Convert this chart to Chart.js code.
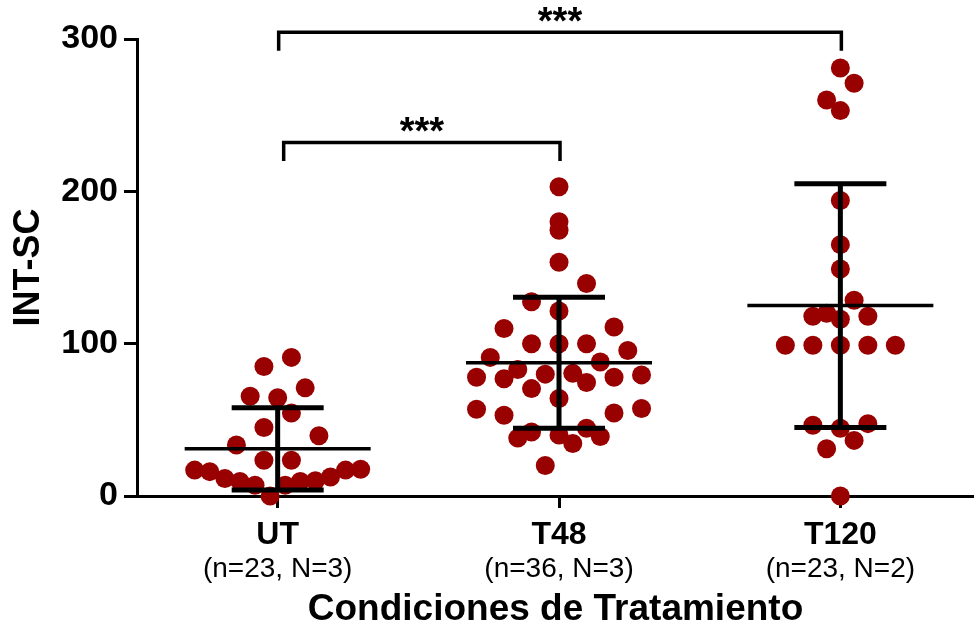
<!DOCTYPE html>
<html>
<head>
<meta charset="utf-8">
<script src="https://cdn.jsdelivr.net/npm/chart.js@4.4.0/dist/chart.umd.min.js"></script>
<style>
  html, body { margin: 0; padding: 0; background: #fff; }
</style>
</head>
<body>
<canvas id="chart" width="974" height="632"></canvas>
<script>
const groups = ["UT", "T48", "T120"];
const groupNotes = ["(n=23, N=3)", "(n=36, N=3)", "(n=23, N=2)"];
const utValues = [91, 85, 71, 65.5, 64.5, 54.5, 45, 39.5, 33.5, 23.5, 23.5,
	17.5, 17, 17, 16, 12.5, 11.5, 10, 9.5, 9.5, 7, 7, 0];
const t48Values = [203, 180, 174.5, 153.5, 139.5, 127.5, 121.5, 111, 110, 100, 100, 100,
	95.5, 91, 88, 83, 80.5, 80, 79.5, 78, 78, 77, 74.5, 70.5, 64, 57.5, 57, 54.5, 53,
	44.5, 42, 40, 39, 38, 34.5, 20];
const t120Values = [281, 271, 260, 253, 194, 165, 149, 128.5, 120, 118, 118, 116,
	99, 99, 99, 99, 99, 47.5, 46.5, 44.5, 36.5, 31, 0];
const means = [31, 87.5, 125];
const sds = [27, 43, 80];
const yTicks = [0, 100, 200, 300];
const comparisons = [
	{ from: 0, to: 2, level: 304.5, label: "***" },
	{ from: 0, to: 1, level: 232, label: "***" },
];

const dotColor = "#990000";
const font = "'Liberation Sans', Arial, sans-serif";

const groupValues = [utValues, t48Values, t120Values];

// mean line + SD bars, drawn over the dots
const errorBars = {
	id: "errorBars",
	afterDatasetsDraw(chart) {
		const { ctx, scales: { x, y } } = chart;
		ctx.save();
		ctx.strokeStyle = "#000";
		ctx.lineCap = "butt";
		groups.forEach((g, i) => {
			const cx = x.getPixelForValue(i);
			const ym = y.getPixelForValue(means[i]);
			const yt = y.getPixelForValue(means[i] + sds[i]);
			const yb = y.getPixelForValue(means[i] - sds[i]);
			ctx.lineWidth = 5;
			ctx.beginPath();
			ctx.moveTo(cx, yt);
			ctx.lineTo(cx, yb);
			ctx.moveTo(cx - 46, yt);
			ctx.lineTo(cx + 46, yt);
			ctx.moveTo(cx - 46, yb);
			ctx.lineTo(cx + 46, yb);
			ctx.stroke();
			ctx.lineWidth = 3.5;
			ctx.beginPath();
			ctx.moveTo(cx - 93, ym);
			ctx.lineTo(cx + 93, ym);
			ctx.stroke();
		});
		ctx.restore();
	},
};

// significance brackets above the plot
const brackets = {
	id: "brackets",
	afterDraw(chart) {
		const { ctx, scales: { x, y } } = chart;
		ctx.save();
		ctx.strokeStyle = "#000";
		ctx.fillStyle = "#000";
		ctx.lineWidth = 3.5;
		ctx.lineJoin = "miter";
		comparisons.forEach((c, k) => {
			const x1 = x.getPixelForValue(c.from) + (k === 1 ? 6 : 1);
			const x2 = x.getPixelForValue(c.to) + 1;
			const yl = y.getPixelForValue(c.level);
			ctx.beginPath();
			ctx.moveTo(x1, yl + 18.5);
			ctx.lineTo(x1, yl);
			ctx.lineTo(x2, yl);
			ctx.lineTo(x2, yl + 18.5);
			ctx.stroke();
			ctx.font = "bold 38px " + font;
			ctx.textAlign = "center";
			ctx.textBaseline = "alphabetic";
			ctx.fillText(c.label, (x1 + x2) / 2, yl - 20 + 21.8);
		});
		ctx.restore();
	},
};

const chart = new Chart(document.getElementById("chart"), {
	type: "scatter",
	data: {
		datasets: groupValues.map((vals, g) => ({
			label: groups[g],
			data: vals.map((v) => ({ x: g, y: v })),
			backgroundColor: dotColor,
			borderWidth: 0,
			pointRadius: 9.5,
			pointHoverRadius: 9.5,
			clip: false,
		})),
	},
	options: {
		responsive: false,
		devicePixelRatio: 1,
		animation: false,
		layout: { autoPadding: false, padding: { top: 39, left: 0, right: 0, bottom: 0 } },
		plugins: { legend: { display: false }, tooltip: { enabled: false } },
		scales: {
			x: {
				type: "linear",
				position: "bottom",
				min: -0.5,
				max: 2.475,
				afterBuildTicks: (s) => { s.ticks = groups.map((_, i) => ({ value: i })); },
				afterFit: (s) => { s.height = 48; },
				ticks: {
					callback: (v) => groups[v],
					color: "#000",
					font: { family: font, size: 32, weight: "bold" },
					padding: 8,
					maxRotation: 0,
				},
				grid: { drawOnChartArea: false, tickLength: 12, tickWidth: 3, tickColor: "#000" },
				border: { color: "#000", width: 3 },
			},
			x2: {
				type: "linear",
				position: "bottom",
				min: -0.5,
				max: 2.475,
				afterBuildTicks: (s) => { s.ticks = groups.map((_, i) => ({ value: i })); },
				afterFit: (s) => { s.height = 88; },
				ticks: {
					callback: (v) => groupNotes[v],
					color: "#000",
					font: { family: font, size: 28 },
					padding: 0,
					maxRotation: 0,
				},
				grid: { display: false },
				border: { display: false },
				title: {
					display: true,
					text: "Condiciones de Tratamiento",
					color: "#000",
					font: { family: font, size: 37, weight: "bold" },
					padding: { top: 0, bottom: 0 },
				},
			},
			y: {
				min: 0,
				max: 300,
				afterBuildTicks: (s) => { s.ticks = yTicks.map((v) => ({ value: v })); },
				afterFit: (s) => { s.width = 137; },
				ticks: {
					color: "#000",
					font: { family: font, size: 34, weight: "bold" },
					padding: 6,
				},
				grid: { drawOnChartArea: false, tickLength: 13, tickWidth: 3, tickColor: "#000" },
				border: { color: "#000", width: 3 },
				title: {
					display: true,
					text: "INT-SC",
					color: "#000",
					font: { family: font, size: 36, weight: "bold" },
					padding: { top: 7, bottom: 0 },
				},
			},
		},
	},
	plugins: [errorBars, brackets],
});

// column scatter: values are grouped into bands of 20, each band is spread
// sideways from the centre (lowest in the middle), squeezed when crowded
function scatterOffsets(values, band, spacing, maxSpan) {
	const offs = new Array(values.length).fill(0);
	const rows = {};
	values.forEach((v, i) => {
		const key = Math.floor(v / band);
		(rows[key] = rows[key] || []).push(i);
	});
	Object.values(rows).forEach((idx) => {
		idx.sort((a, b) => values[a] - values[b]);
		const n = idx.length;
		const step = n > 1 ? Math.min(spacing, maxSpan / (n - 1)) : 0;
		// slots ordered from the centre outwards, left first
		const slots = [];
		for (let s = 0; s < n; s++) slots.push((s - (n - 1) / 2) * step);
		slots.sort((a, b) => Math.abs(a) - Math.abs(b) || a - b);
		idx.forEach((i, k) => { offs[i] = slots[k]; });
	});
	return offs;
}

const unit = chart.scales.x.getPixelForValue(1) - chart.scales.x.getPixelForValue(0);
chart.data.datasets.forEach((ds, g) => {
	const offs = scatterOffsets(groupValues[g], 20, 27.5, 166);
	ds.data = groupValues[g].map((v, i) => ({ x: g + offs[i] / unit, y: v }));
});
chart.update("none");
</script>
</body>
</html>
